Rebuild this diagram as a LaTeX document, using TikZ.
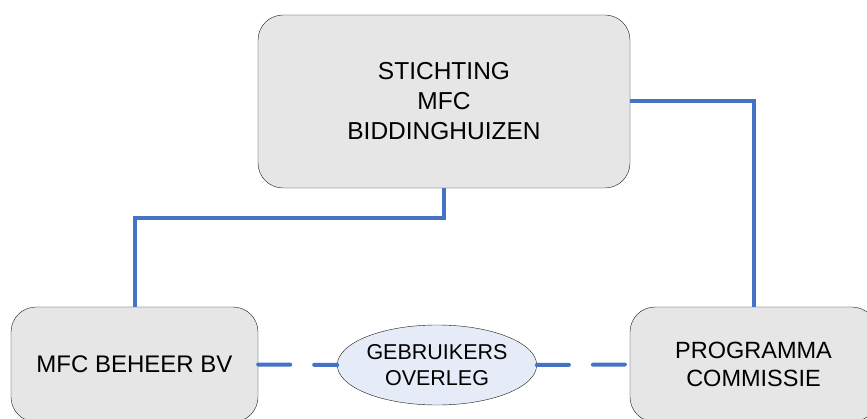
\documentclass[tikz,border=0pt]{standalone}
\usepackage{fontspec}
\setmainfont{Liberation Sans}
\usetikzlibrary{shapes.geometric}
\definecolor{boxgray}{RGB}{230,230,230}
\definecolor{ovalblue}{RGB}{230,236,247}
\definecolor{linkblue}{RGB}{68,114,196}
\tikzset{
  orgbox/.style={draw=black!90,fill=boxgray,rectangle,rounded corners=25pt,
    inner sep=0pt,align=center,font=\fontsize{24}{30}\selectfont},
  meetoval/.style={draw=black!90,fill=ovalblue,ellipse,inner sep=0pt,
    minimum width=198pt,minimum height=80pt,align=center,
    font=\fontsize{21.5}{26}\selectfont},
  link/.style={draw=linkblue,line width=4pt},
  dashlink/.style={link,line cap=round,dash pattern=on 32pt off 24pt}
}

\begin{document}
\begin{tikzpicture}[x=1pt,y=1pt]
\clip (0,0) rectangle (867,418);
% Draw the boxes
\node[orgbox,minimum width=372pt,minimum height=173pt,
  font=\fontsize{24.5}{30}\selectfont] (stichting)
  at (444,316.5) {STICHTING\\MFC\\BIDDINGHUIZEN};
\node[orgbox,minimum width=247pt,minimum height=115pt] (beheer)
  at (134.5,53.5) {MFC BEHEER BV};
\node[orgbox,minimum width=247pt,minimum height=115pt,
  font=\fontsize{23.5}{28}\selectfont] (commissie)
  at (753.5,53.5) {PROGRAMMA\\COMMISSIE};
\node[meetoval] (overleg) at (437,53) {GEBRUIKERS\\OVERLEG};

% Draw the links
\draw[link] (stichting.south) -- ++(0,-30) -| (beheer.north);
\draw[link] (stichting.east) -| (commissie.north);
\draw[dashlink] (beheer.east) -- (overleg.west);
\draw[dashlink] (overleg.east) -- (commissie.west);
\end{tikzpicture}
\end{document}
